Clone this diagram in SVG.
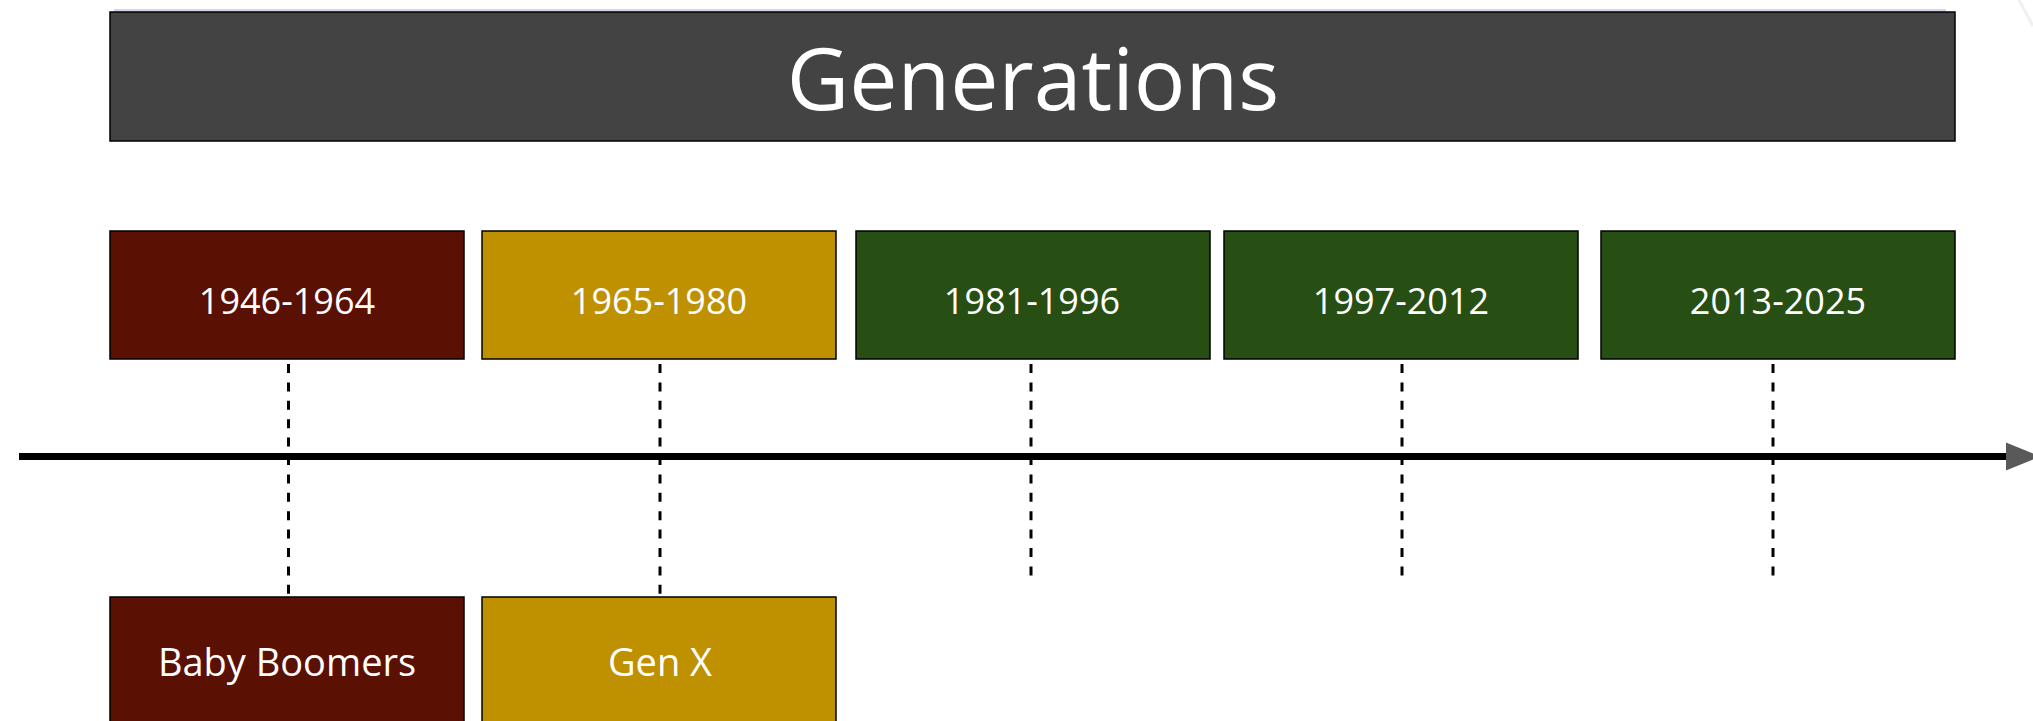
<svg xmlns="http://www.w3.org/2000/svg" width="2033" height="721" viewBox="0 0 2033 721">
  <defs>
    <style>
      .box { stroke: #000; stroke-width: 1.5; }
      .maroon { fill: #5a1002; }
      .gold { fill: #bf9000; }
      .green { fill: #274e13; }
      .title { fill: #434343; stroke: #000; stroke-width: 1.5; }
      .t { font-family: "Open Sans", "Liberation Sans", sans-serif; fill: #fff; text-anchor: middle; }
      .yr { font-size: 36px; }
      .lbl { font-size: 38px; }
      .dash { stroke: #000; stroke-width: 3; stroke-dasharray: 9 9.4; fill: none; }
      .axis { stroke: #000; stroke-width: 7; fill: none; }
    </style>
    <marker id="arrow" markerUnits="userSpaceOnUse" markerWidth="40" markerHeight="30" refX="0" refY="14" orient="auto" overflow="visible">
      <path d="M0,0 L34,14 L0,28 Z" fill="#595959"/>
    </marker>
  </defs>
  <rect width="2033" height="721" fill="#fff"/>
  <path d="M2019,0 L2033,26" stroke="#f0f0f0" stroke-width="3" fill="none"/>

  <g id="title">
    <rect x="114" y="9" width="1832" height="3" fill="#d4d4ee"/>
    <rect class="title" x="110" y="12" width="1845" height="129"/>
    <text class="t" x="1033" y="110" font-size="86">Generations</text>
  </g>

  <g id="connectors">
    <line class="axis" x1="19" y1="456.5" x2="2006" y2="456.5" marker-end="url(#arrow)"/>
    <line class="dash" x1="288.5" y1="364" x2="288.5" y2="597"/>
    <line class="dash" x1="660" y1="364" x2="660" y2="597"/>
    <line class="dash" x1="1031" y1="364" x2="1031" y2="577"/>
    <line class="dash" x1="1402" y1="364" x2="1402" y2="577"/>
    <line class="dash" x1="1773" y1="364" x2="1773" y2="577"/>
  </g>

  <g id="y1946">
    <rect class="box maroon" x="110" y="231" width="354" height="128"/>
    <text class="t yr" x="287" y="314">1946-1964</text>
  </g>
  <g id="y1965">
    <rect class="box gold" x="482" y="231" width="354" height="128"/>
    <text class="t yr" x="659" y="314">1965-1980</text>
  </g>
  <g id="y1981">
    <rect class="box green" x="856" y="231" width="354" height="128"/>
    <text class="t yr" x="1032" y="314">1981-1996</text>
  </g>
  <g id="y1997">
    <rect class="box green" x="1224" y="231" width="354" height="128"/>
    <text class="t yr" x="1401" y="314">1997-2012</text>
  </g>
  <g id="y2013">
    <rect class="box green" x="1601" y="231" width="354" height="128"/>
    <text class="t yr" x="1778" y="314">2013-2025</text>
  </g>

  <g id="boomers">
    <rect class="box maroon" x="110" y="597" width="354" height="130"/>
    <text class="t lbl" x="287" y="676">Baby Boomers</text>
  </g>
  <g id="genx">
    <rect class="box gold" x="482" y="597" width="354" height="130"/>
    <text class="t lbl" x="660" y="676">Gen X</text>
  </g>
</svg>
